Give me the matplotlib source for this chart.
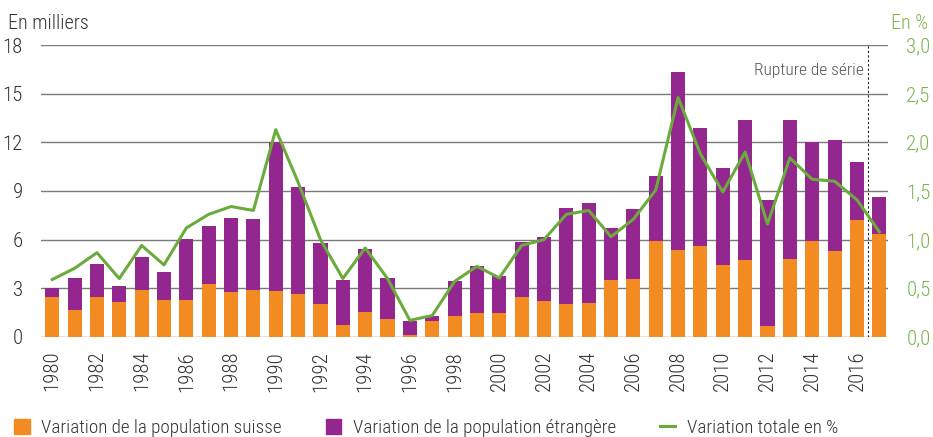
import matplotlib
matplotlib.use("Agg")
import matplotlib.pyplot as plt
from matplotlib.patches import Patch
from matplotlib.lines import Line2D
from matplotlib.ticker import FuncFormatter

plt.rcParams['font.family'] = ['Roboto Condensed', 'Archivo Narrow', 'DejaVu Sans']
plt.rcParams['font.weight'] = 'light'

# data (en milliers / en %)
years = list(range(1980, 2018))
swiss = [2.47, 1.64, 2.47, 2.14, 2.88, 2.26, 2.26, 3.25, 2.75, 2.88,
         2.81, 2.63, 2.01, 0.72, 1.52, 1.09, 0.10, 0.97, 1.27, 1.46,
         1.46, 2.45, 2.20, 2.01, 2.08, 3.49, 3.55, 5.92, 5.34, 5.59,
         4.42, 4.73, 0.66, 4.79, 5.92, 5.28, 7.19, 6.33]
foreign = [0.53, 2.00, 2.01, 0.98, 2.03, 1.73, 3.76, 3.57, 4.56, 4.37,
           9.21, 6.60, 3.76, 2.77, 3.88, 2.53, 0.87, 0.30, 2.16, 2.90,
           2.28, 3.39, 3.94, 5.92, 6.16, 3.21, 4.32, 3.98, 10.97, 7.27,
           5.98, 8.63, 7.76, 8.57, 6.08, 6.84, 3.58, 2.28]
total_pct = [0.59, 0.705, 0.866, 0.60, 0.94, 0.74, 1.12, 1.26, 1.34, 1.30,
             2.13, 1.59, 1.00, 0.60, 0.914, 0.60, 0.17, 0.22, 0.57, 0.726,
             0.606, 0.94, 1.00, 1.26, 1.30, 1.03, 1.21, 1.51, 2.46, 1.88,
             1.49, 1.90, 1.16, 1.84, 1.62, 1.60, 1.41, 1.08]

orange = '#F28C22'
purple = '#93278F'
green = '#6AAB3C'
grey_txt = '#333333'

fig = plt.figure(figsize=(9.33, 4.37), dpi=100)
ax = fig.add_axes([0.044, 0.229, 0.908, 0.668])

ax.bar(years, swiss, width=0.63, color=orange, zorder=2)
ax.bar(years, foreign, width=0.63, bottom=swiss, color=purple, zorder=2)

ax.set_xlim(1979.5, 2017.4)
ax.set_ylim(0, 18)
ax.set_yticks(range(0, 19, 3))
ax.set_xticks(range(1980, 2017, 2))
ax.set_xticklabels([str(y) for y in range(1980, 2017, 2)], rotation=90)
ax.grid(axis='y', color='#7a7a7a', linewidth=1, zorder=0)
for s in ax.spines.values():
    s.set_visible(False)
ax.tick_params(axis='both', length=0, labelsize=15, colors=grey_txt)
ax.tick_params(axis='y', pad=13)
ax.tick_params(axis='x', pad=10)

ax2 = ax.twinx()
ax2.plot(years, total_pct, color=green, linewidth=2.2, zorder=3)
ax2.set_ylim(0, 3)
ax2.set_yticks([0, 0.5, 1, 1.5, 2, 2.5, 3])
ax2.yaxis.set_major_formatter(FuncFormatter(lambda v, p: f"{v:.1f}".replace('.', ',')))
for s in ax2.spines.values():
    s.set_visible(False)
ax2.tick_params(axis='y', length=0, labelsize=15, colors='#77B54B', pad=13)

# rupture de serie
ax.axvline(2016.5, color='#222222', linewidth=0.8, linestyle=(0, (2, 2)), zorder=3)
ax.text(2016.3, 16.4, 'Rupture de série', ha='right', va='center',
        fontsize=12.5, color='#555555')

fig.text(0.009, 0.947, 'En milliers', fontsize=14.5, color=grey_txt, va='center')
fig.text(0.995, 0.947, 'En %', fontsize=14.5, color='#77B54B', va='center', ha='right')

handles = [Patch(color=orange), Patch(color=purple), Line2D([], [], color=green, linewidth=2.2)]
labels = ['Variation de la population suisse', 'Variation de la population étrangère',
          'Variation totale en %']
fig.legend(handles, labels, loc='center left', bbox_to_anchor=(-0.003, 0.02), ncol=3,
           frameon=False, fontsize=13.8, handlelength=0.8, handleheight=0.8,
           handletextpad=0.6, columnspacing=2.3, labelcolor=grey_txt)

fig.savefig('out.png', dpi=100)
